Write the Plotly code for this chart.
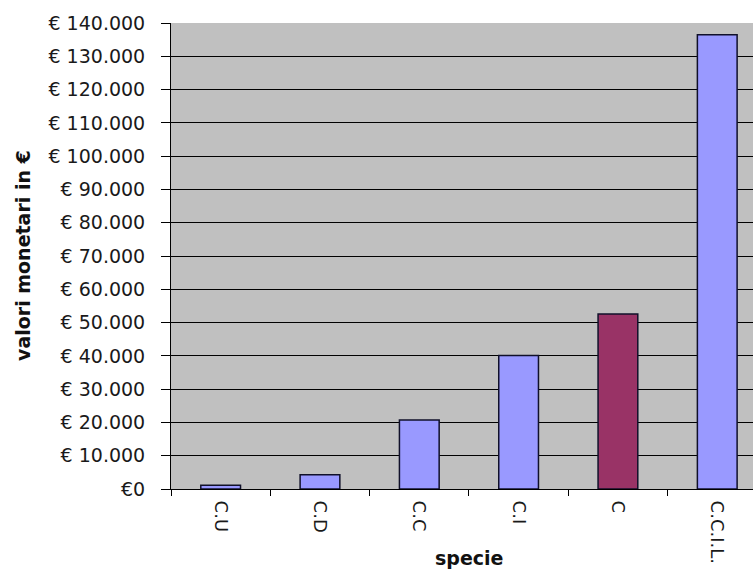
import plotly.graph_objects as go

# Monetary values per species group
categories = ["C.U", "C.D", "C.C", "C.I", "C", "C.C.I.L."]
values = [1100, 4300, 20700, 40100, 52600, 136500]
bar_colors = ["#9999FF", "#9999FF", "#9999FF", "#9999FF", "#993366", "#9999FF"]

# Y-axis ticks (euro, Italian thousands separator)
y_tick_values = [0, 10000, 20000, 30000, 40000, 50000, 60000, 70000,
                 80000, 90000, 100000, 110000, 120000, 130000, 140000]
y_tick_labels = ["€0", "€ 10.000", "€ 20.000", "€ 30.000", "€ 40.000",
                 "€ 50.000", "€ 60.000", "€ 70.000", "€ 80.000", "€ 90.000",
                 "€ 100.000", "€ 110.000", "€ 120.000", "€ 130.000", "€ 140.000"]

fig = go.Figure(
    go.Bar(
        x=categories,
        y=values,
        marker=dict(color=bar_colors, line=dict(color="#10102a", width=1.5)),
        width=0.4,
        hoverinfo="x+y",
    )
)

fig.update_layout(
    width=753,
    height=570,
    autosize=False,
    margin=dict(l=171, r=0, t=23, b=81),
    paper_bgcolor="white",
    plot_bgcolor="#C0C0C0",
    font=dict(family="DejaVu Sans", color="#1a1a1a"),
    showlegend=False,
    xaxis=dict(
        type="category",
        range=[-0.5, 5.36],
        tickson="boundaries",
        ticks="outside",
        ticklen=6,
        tickwidth=1,
        tickcolor="black",
        tickangle=90,
        tickfont=dict(family="DejaVu Sans", size=18, color="#1a1a1a"),
        ticklabelstandoff=7,
        showgrid=False,
        showline=True,
        linecolor="black",
        linewidth=1,
        zeroline=False,
    ),
    yaxis=dict(
        range=[0, 140000],
        tickmode="array",
        tickvals=y_tick_values,
        ticktext=y_tick_labels,
        ticks="outside",
        ticklen=9,
        tickwidth=1,
        tickcolor="black",
        tickfont=dict(family="DejaVu Sans", size=19, color="#1a1a1a"),
        ticklabelstandoff=12,
        showgrid=True,
        gridcolor="black",
        gridwidth=1,
        showline=True,
        linecolor="black",
        linewidth=1,
        zeroline=False,
    ),
    annotations=[
        dict(
            text="valori monetari in €",
            xref="paper", yref="paper",
            x=(23 - 171) / 582, y=0.5,
            xanchor="center", yanchor="middle",
            textangle=-90,
            showarrow=False,
            font=dict(family="DejaVu Sans", size=19, color="#111111", weight="bold"),
        ),
        dict(
            text="specie",
            xref="paper", yref="paper",
            x=(469 - 171) / 582, y=-(558 - 489) / 466,
            xanchor="center", yanchor="middle",
            showarrow=False,
            font=dict(family="DejaVu Sans", size=19, color="#111111", weight="bold"),
        ),
    ],
)

fig.write_html("out.html")
